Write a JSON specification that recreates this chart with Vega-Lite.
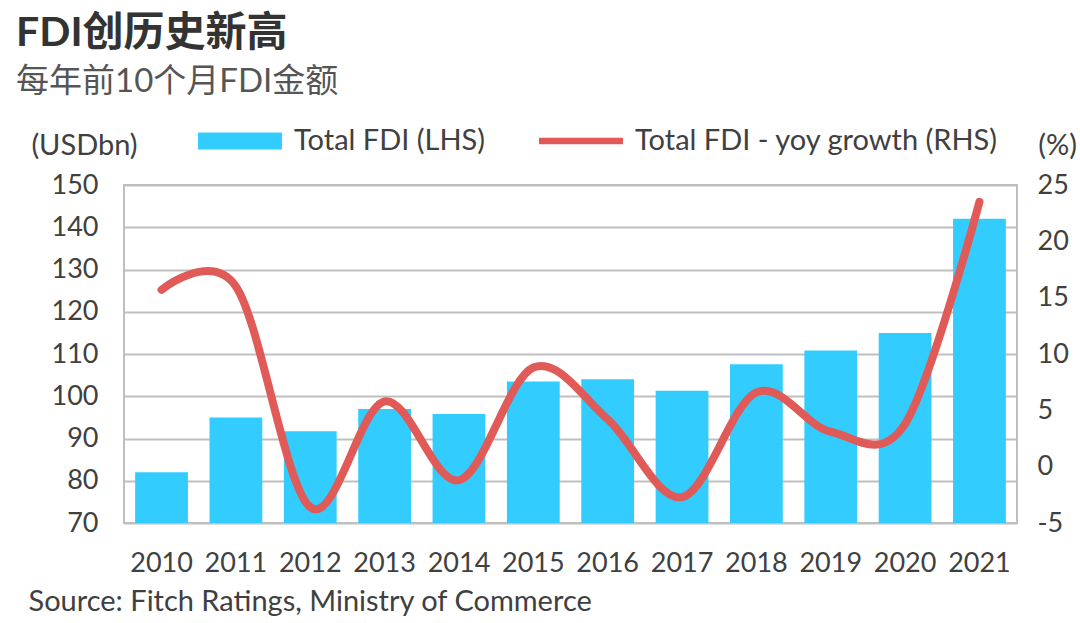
{
  "$schema": "https://vega.github.io/schema/vega-lite/v6.json",
  "autosize": {"type": "none"},
  "width": 893,
  "height": 338,
  "padding": {"left": 124, "top": 185, "right": 63, "bottom": 100},
  "background": "white",
  "config": {
    "font": "Lato, Noto Sans CJK SC, sans-serif",
    "view": {"stroke": "#BFBFBF", "strokeWidth": 2},
    "axis": {"labelFont": "Lato", "labelFontSize": 27, "labelColor": "#404040", "titleFont": "Lato", "titleFontSize": 29, "titleColor": "#404040", "titleFontWeight": "normal"}
  },
  "title": {
    "text": "FDI创历史新高",
    "subtitle": "每年前10个月FDI金额",
    "anchor": "start",
    "frame": "group",
    "dx": -108,
    "offset": -1,
    "fontSize": 41,
    "fontWeight": "bold",
    "color": "#333333",
    "font": "Lato, Noto Sans CJK SC",
    "subtitleFont": "Lato, Noto Sans CJK SC",
    "subtitleFontSize": 33,
    "subtitleColor": "#555555",
    "subtitlePadding": 11
  },
  "data": {
    "values": [
      {"year": "2010", "fdi": 82.0, "growth": 15.7},
      {"year": "2011", "fdi": 95.0, "growth": 16.0},
      {"year": "2012", "fdi": 91.7, "growth": -3.6},
      {"year": "2013", "fdi": 97.0, "growth": 5.8},
      {"year": "2014", "fdi": 95.8, "growth": -1.2},
      {"year": "2015", "fdi": 103.5, "growth": 8.8},
      {"year": "2016", "fdi": 104.0, "growth": 4.2},
      {"year": "2017", "fdi": 101.3, "growth": -2.7},
      {"year": "2018", "fdi": 107.6, "growth": 6.6},
      {"year": "2019", "fdi": 110.8, "growth": 3.1},
      {"year": "2020", "fdi": 115.0, "growth": 3.8},
      {"year": "2021", "fdi": 142.0, "growth": 23.5}
    ]
  },
  "encoding": {
    "x": {
      "field": "year", "type": "nominal",
      "scale": {"paddingInner": 0.29, "paddingOuter": 0.15},
      "axis": {
        "labelAngle": 0, "domain": false, "ticks": false, "labelPadding": 27,
        "title": "Source: Fitch Ratings, Ministry of Commerce",
        "titleAnchor": "start", "titleAlign": "left", "titleX": -96, "titleY": 78,
        "titleBaseline": "middle", "titleFontSize": 29
      }
    }
  },
  "layer": [
    {
      "mark": {"type": "bar", "clip": true},
      "encoding": {
        "y": {
          "field": "fdi", "type": "quantitative",
          "scale": {"domain": [70, 150], "zero": false},
          "axis": {
            "values": [70, 80, 90, 100, 110, 120, 130, 140, 150],
            "grid": true, "gridColor": "#BFBFBF", "gridWidth": 2,
            "domain": false, "ticks": false, "labelPadding": 26,
            "title": "(USDbn)", "titleAngle": 0, "titleX": -40, "titleY": -40,
            "titleAlign": "center", "titleBaseline": "middle"
          }
        },
        "color": {
          "datum": "Total FDI (LHS)",
          "scale": {"domain": ["Total FDI (LHS)", "Total FDI - yoy growth (RHS)"], "range": ["#33CCFF", "#E05A57"]},
          "legend": {
            "title": null,
            "orient": "none",
            "legendX": 74,
            "legendY": -86,
            "direction": "horizontal",
            "symbolSize": 6800,
            "labelFont": "Lato",
            "labelFontSize": 29,
            "labelColor": "#404040",
            "labelLimit": 500,
            "labelOffset": 12,
            "columnPadding": 50,
            "encode": {
              "symbols": {
                "update": {
                  "shape": {"signal": "datum.value == 'Total FDI (LHS)' ? 'M-1,-0.19H1V0.19H-1Z' : 'M-1,-0.06H1V0.06H-1Z'"},
                  "fill": {"signal": "datum.value == 'Total FDI (LHS)' ? '#33CCFF' : '#E05A57'"},
                  "stroke": {"value": "transparent"},
                  "opacity": {"value": 1}
                }
              }
            }
          }
        }
      }
    },
    {
      "mark": {"type": "line", "interpolate": "cardinal", "strokeWidth": 8, "strokeCap": "round"},
      "encoding": {
        "y": {
          "field": "growth", "type": "quantitative",
          "scale": {"domain": [-5, 25], "zero": false},
          "axis": {
            "orient": "right",
            "values": [-5, 0, 5, 10, 15, 20, 25],
            "labelExpr": "'' + datum.value",
            "grid": false, "domain": false, "ticks": false, "labelPadding": 20,
            "title": "(%)", "titleAngle": 0, "titleX": 40, "titleY": -40,
            "titleAlign": "center", "titleBaseline": "middle"
          }
        },
        "color": {"datum": "Total FDI - yoy growth (RHS)"}
      }
    }
  ],
  "resolve": {"scale": {"y": "independent"}}
}
